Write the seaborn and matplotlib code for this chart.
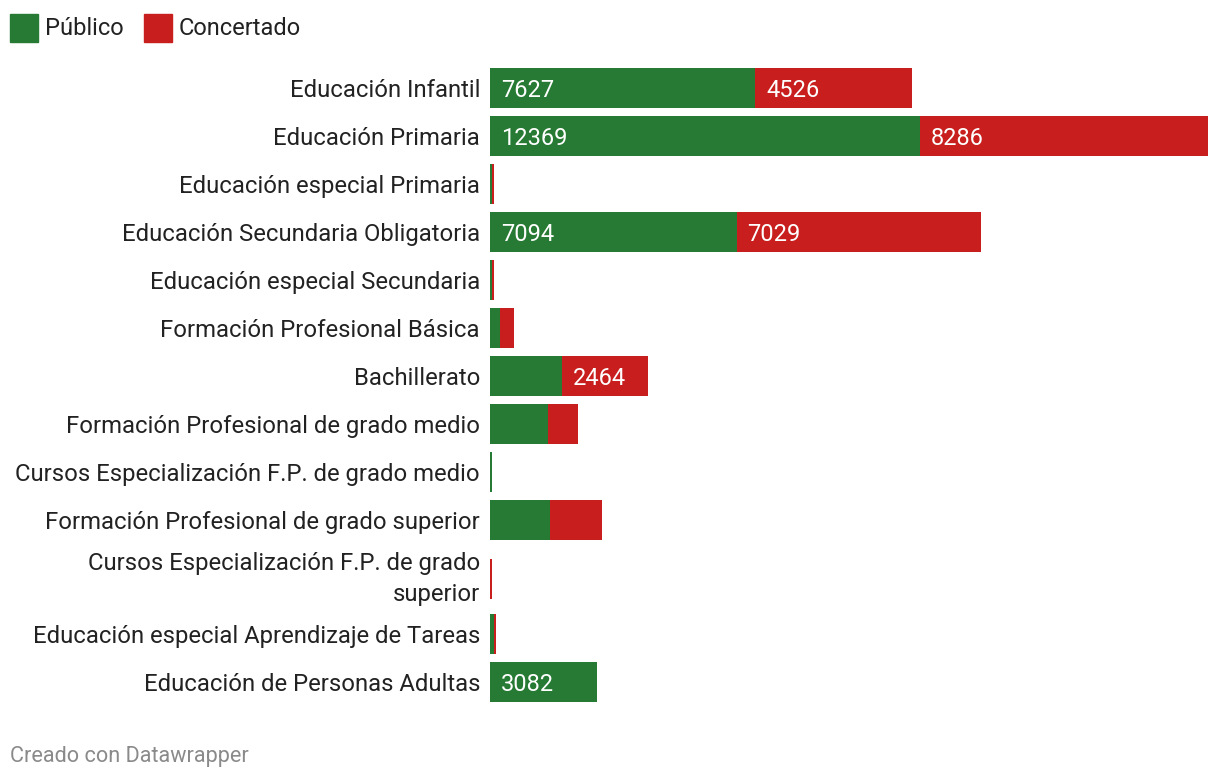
import matplotlib
matplotlib.use("Agg")
import matplotlib.pyplot as plt
import seaborn as sns
import pandas as pd
from matplotlib.patches import Rectangle

categories = [
    "Educación Infantil",
    "Educación Primaria",
    "Educación especial Primaria",
    "Educación Secundaria Obligatoria",
    "Educación especial Secundaria",
    "Formación Profesional Básica",
    "Bachillerato",
    "Formación Profesional de grado medio",
    "Cursos Especialización F.P. de grado medio",
    "Formación Profesional de grado superior",
    "Cursos Especialización F.P. de grado\nsuperior",
    "Educación especial Aprendizaje de Tareas",
    "Educación de Personas Adultas",
]
publico = [7627, 12369, 60, 7094, 60, 288, 2071, 1669, 58, 1726, 0, 115, 3082]
concertado = [4526, 8286, 58, 7029, 58, 403, 2464, 863, 0, 1496, 58, 58, 0]
series_names = ["Público", "Concertado"]

GREEN = "#277a33"
RED = "#c81e1e"
TEXT = "#222222"

sns.set_style("white")
plt.rcParams["font.family"] = ["Roboto", "DejaVu Sans"]

W, H = 1220, 778
ROW = 48          # pixel height of a one-line row
EXTRA = 18        # extra pixels for each additional label line
TOP = 64

# row centres (in pixels from the top of the plot area), from label line counts
ypos = []
cursor = 0
for c in categories:
    nlines = c.count("\n") + 1
    h = ROW + EXTRA * (nlines - 1)
    ypos.append(cursor + h / 2 + (2 if nlines > 1 else 0))
    cursor += h
total_h = cursor

df = pd.DataFrame({"cat": categories, "pub": publico, "con": concertado, "y": ypos})
df["total"] = df["pub"] + df["con"]

fig = plt.figure(figsize=(W / 100, H / 100), dpi=100)
ax = fig.add_axes([490 / W, 1 - (TOP + total_h) / H, (1208 - 490) / W, total_h / H])

sns.barplot(data=df, y="y", x="total", color=RED, orient="h", native_scale=True,
            width=40 / ROW, ax=ax, saturation=1, linewidth=0)
sns.barplot(data=df, y="y", x="pub", color=GREEN, orient="h", native_scale=True,
            width=40 / ROW, ax=ax, saturation=1, linewidth=0)

xmax = df["total"].max()
ax.set_xlim(0, xmax)
ax.set_ylim(total_h, 0)
ax.set_xlabel("")
ax.set_ylabel("")
ax.set_xticks([])
ax.set_yticks(ypos)
ax.set_yticklabels(categories)
for s in ax.spines.values():
    s.set_visible(False)
ax.tick_params(axis="y", length=0, pad=7.2, labelsize=17.2, labelcolor=TEXT)
for lbl in ax.get_yticklabels():
    lbl.set_horizontalalignment("right")
    lbl.set_linespacing(1.4)
    if "\n" in lbl.get_text():
        lbl.set_verticalalignment("center")
    else:
        lbl.set_verticalalignment("center_baseline")

px_per_unit = (1208 - 490) / xmax
threshold = 80 / px_per_unit
off = 11 / px_per_unit
for y, p, c in zip(ypos, publico, concertado):
    if p > threshold:
        ax.text(off, y, str(p), color="white", fontsize=17, va="center_baseline", ha="left")
    if c > threshold:
        ax.text(p + off, y, str(c), color="white", fontsize=17, va="center_baseline", ha="left")

# legend
fig.patches.append(Rectangle((10 / W, 1 - 42 / H), 28 / W, 28 / H, color=GREEN,
                             transform=fig.transFigure, figure=fig))
fig.text(45 / W, 1 - 26 / H, series_names[0], fontsize=17, color=TEXT, va="center_baseline")
fig.patches.append(Rectangle((144 / W, 1 - 42 / H), 28 / W, 28 / H, color=RED,
                             transform=fig.transFigure, figure=fig))
fig.text(179 / W, 1 - 26 / H, series_names[1], fontsize=17, color=TEXT, va="center_baseline")

fig.text(10 / W, 1 - 754 / H, "Creado con Datawrapper", fontsize=15.6, color="#8a8a8a",
         va="center_baseline")

fig.savefig("out.png", dpi=100, facecolor="white")
